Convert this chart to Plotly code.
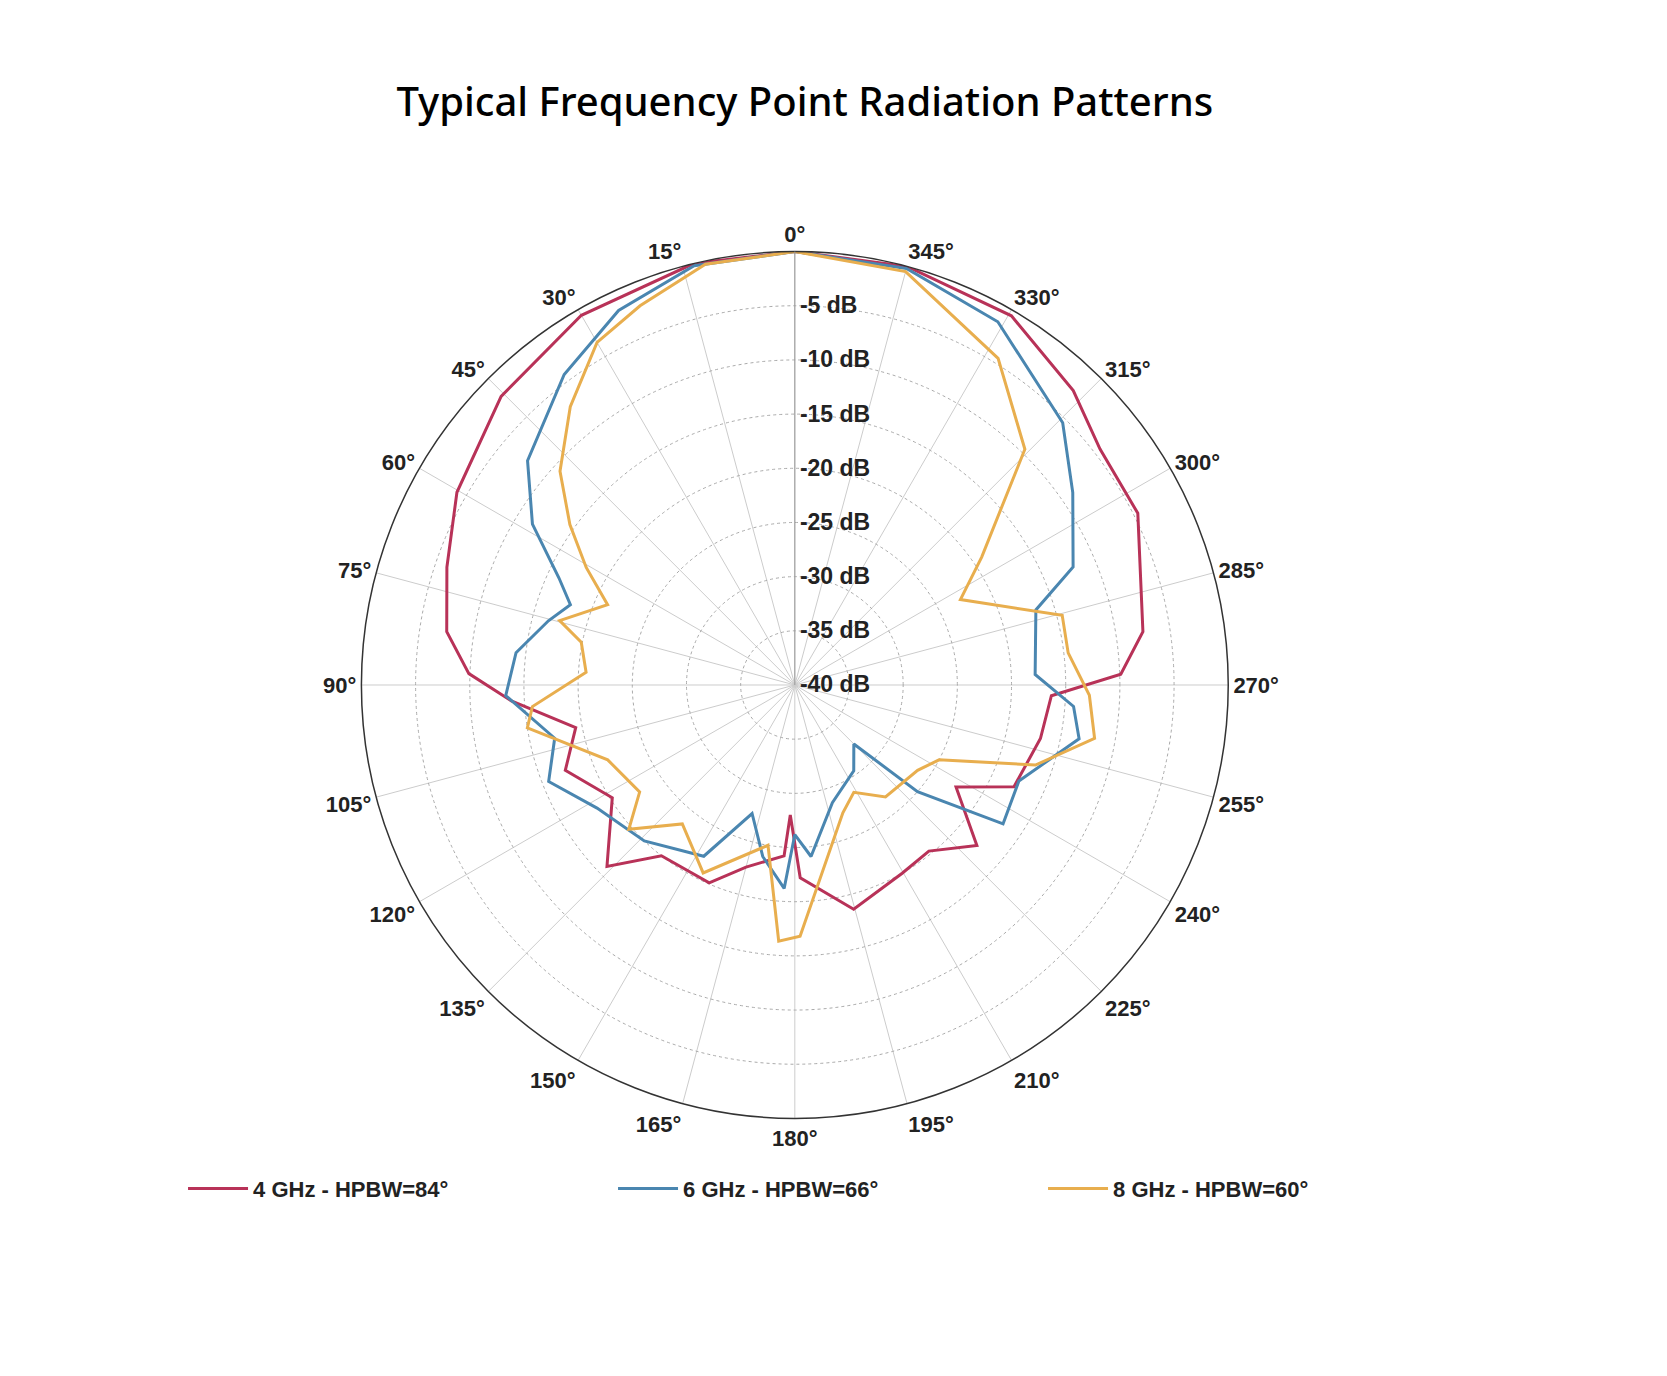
import plotly.graph_objects as go

theta_4 = [0,13.5,30,45.5,60.3,71.3,81.3,88,93.2,101,110.4,121.7,134,142,156.6,165,176.4,178,181.6,194.7,209.7,218.9,228.6,237.7,245.1,257.7,267.6,271.9,278.7,296.6,307.7,316.6,329.6,345,360]
r_4 = [0,0,-0.6,-2,-4.1,-6.1,-7.5,-9.9,-13.8,-19.4,-17.4,-20.2,-15.9,-20,-20.1,-22.6,-24.2,-28,-22.2,-18.6,-20,-20.3,-17.6,-22.4,-17.7,-16.8,-16.3,-9.9,-7.5,-4.6,-4.4,-2.6,-0.5,0,0]

theta_6 = [0,13.5,25.2,36.6,50,58.5,65.6,70.3,75.4,83.4,92.1,102.5,111.4,121.9,136,152,161.6,169.4,177,180,185.4,197.7,214.5,225,229,236.3,246.8,259.3,265.6,272.5,287.3,293,304.7,314.4,330.8,345,360]
r_6 = [0,-0.2,-1.8,-4.3,-7.8,-11.6,-16.1,-18,-16.5,-14.1,-13.3,-17.3,-15.6,-18.5,-20,-22.1,-27.5,-23.9,-21.2,-26.2,-24.1,-28.6,-30.4,-32.3,-25,-16.9,-17.5,-13.3,-14.2,-17.8,-16.7,-12.1,-8.8,-5.4,-1.6,-0.2,0]

theta_8 = [0,12,22.2,30,38.9,47.7,54.5,60.6,66.8,74.7,78.7,86.5,94.7,99.1,111.8,124.6,131,141,154,170.5,176.4,181.2,200.6,208.8,219,235.2,242.6,251.6,259.9,268,276.7,284.6,297.3,304.4,315.7,328.1,345,360]
r_8 = [0,-0.3,-2.2,-3.5,-7,-10.7,-14.5,-17.9,-21.2,-17.5,-19.9,-20.7,-15.7,-15,-21.4,-22.6,-19.7,-23.5,-20.7,-25,-16.3,-16.8,-27.4,-28.7,-26.7,-26.2,-25,-16.6,-11.9,-12.8,-14.6,-14.5,-22.8,-19.1,-9.6,-4.5,-0.5,0]

names = ["4 GHz - HPBW=84°", "6 GHz - HPBW=66°", "8 GHz - HPBW=60°"]
colors = ["#B83258", "#4A86B0", "#E8AE4E"]
tick_angles = list(range(0, 360, 15))
r_ticks = [-40, -35, -30, -25, -20, -15, -10, -5]

fig = go.Figure()
for th, r, n, c in zip([theta_4, theta_6, theta_8], [r_4, r_6, r_8], names, colors):
    fig.add_trace(go.Scatterpolar(theta=th, r=r, mode="lines", name=f"<b>{n}</b>",
                                  line=dict(color=c, width=3)))

font = "Liberation Sans"
fig.update_layout(
    width=1667, height=1376, margin=dict(l=0, r=0, t=0, b=0),
    paper_bgcolor="white",
    title=dict(text="Typical Frequency Point Radiation Patterns", x=0.478, xanchor="center",
               y=0.932, yanchor="middle",
               font=dict(family="Noto Sans", size=40, color="black", weight=500)),
    font=dict(family=font, size=20, color="#222"),
    polar=dict(
        domain=dict(x=[0.212, 0.732], y=[0.193, 0.823]),
        bgcolor="white",
        angularaxis=dict(rotation=90, direction="counterclockwise", tickvals=tick_angles,
                         ticktext=[f"<b>{a}°</b>" for a in tick_angles],
                         showline=True, linecolor="#333", linewidth=1.5,
                         gridcolor="#cccccc", gridwidth=1.2, ticks="",
                         tickfont=dict(size=22)),
        radialaxis=dict(range=[-40, 0], tickvals=r_ticks,
                        ticktext=[f"<b>{v} dB</b>" for v in r_ticks],
                        angle=90, tickangle=90, showline=True, linecolor="#999",
                        gridcolor="#aaaaaa", griddash="dot", ticks="",
                        tickfont=dict(size=23)),
    ),
    legend=dict(orientation="h", x=0.105, y=0.142, xanchor="left", yanchor="middle",
                entrywidth=355, font=dict(size=22), itemwidth=60),
)
fig.write_html("out.html")
